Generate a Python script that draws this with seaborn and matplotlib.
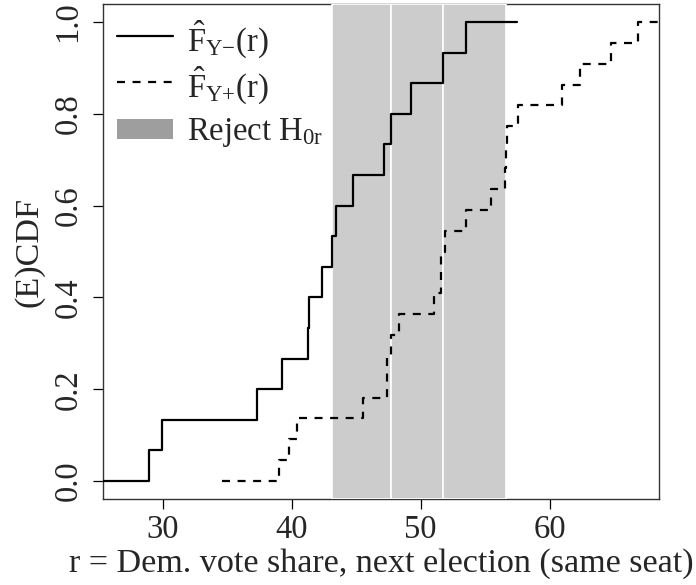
import numpy as np
import pandas as pd
import matplotlib
matplotlib.use("Agg")
import matplotlib.pyplot as plt
from matplotlib.patches import Patch, Rectangle
from matplotlib.lines import Line2D
from matplotlib.legend_handler import HandlerPatch
import seaborn as sns

# ECDF knots (jump points)
knots_minus = [28.94, 29.95, 37.26, 39.25, 41.24, 41.34, 42.38, 43.13, 43.46,
               44.75, 47.13, 47.73, 49.28, 51.73, 53.51]
knots_plus = [39.02, 39.79, 40.41, 45.53, 47.39, 47.39, 47.67, 48.29, 51.01,
              51.55, 51.57, 51.91, 53.54, 55.43, 56.51, 56.59, 56.67, 57.54,
              60.97, 62.33, 64.73, 66.90]
# horizontal extent of each step function
extent_minus = [24.98, 57.47]
extent_plus = [34.55, 71.40]

# rejection regions (shaded)
reject_lo = [43.13, 47.72, 51.75]
reject_hi = [47.72, 51.75, 56.64]

x_ticks = [30, 40, 50, 60]
y_ticks = [0.0, 0.2, 0.4, 0.6, 0.8, 1.0]
y_ticklabels = ["0.0", "0.2", "0.4", "0.6", "0.8", "1.0"]


def ecdf_frame(knots, extent):
    n = len(knots)
    xs = [extent[0]] + list(knots) + [extent[1]]
    ys = [0.0] + [(i + 1) / n for i in range(n)] + [1.0]
    return pd.DataFrame({"r": xs, "F": ys})


def small_rect(legend, orig_handle, xdescent, ydescent, width, height, fontsize):
    # legend rows are tall, keep the grey box short
    h = 14.4
    return Rectangle((-xdescent, -ydescent + (height - h) / 2), width, h)


df_minus = ecdf_frame(knots_minus, extent_minus)
df_plus = ecdf_frame(knots_plus, extent_plus)

sns.set_style("ticks")
plt.rcParams["font.family"] = ["Liberation Serif", "DejaVu Serif"]
plt.rcParams["mathtext.fontset"] = "custom"
plt.rcParams["mathtext.rm"] = "Liberation Serif"
plt.rcParams["mathtext.it"] = "Liberation Serif:italic"
plt.rcParams["font.size"] = 23.5

fig = plt.figure(figsize=(6.96, 5.85), dpi=100)
ax = fig.add_axes([0.148, 0.147, 0.799, 0.846])

for lo, hi in zip(reject_lo, reject_hi):
    ax.axvspan(lo, hi, facecolor="#cccccc", edgecolor="white", linewidth=1.2, zorder=3)

sns.lineplot(data=df_minus, x="r", y="F", estimator=None, drawstyle="steps-post",
             color="black", linewidth=1.6, ax=ax, zorder=4)
sns.lineplot(data=df_plus, x="r", y="F", estimator=None, drawstyle="steps-post",
             color="black", linewidth=1.6, dashes=False, ax=ax, zorder=4)
ax.lines[-1].set_dashes([3.6, 3.4])

ax.set_xlim(25.35, 68.5)
ax.set_ylim(-0.039, 1.039)
ax.set_xticks(x_ticks)
ax.set_yticks(y_ticks)
ax.set_yticklabels(y_ticklabels, rotation=90, va="center")
ax.tick_params(direction="out", length=7.2, width=0.9, color="black", pad=4)
ax.tick_params(axis="y", pad=7)
for s in ax.spines.values():
    s.set_visible(True)
    s.set_linewidth(1.0)
    s.set_color("#333333")
    s.set_zorder(2)

ax.set_xlabel("r = Dem. vote share, next election (same seat)", fontsize=24.6, labelpad=2)
ax.set_ylabel("(E)CDF", fontsize=24.6, labelpad=6)

handles = [
    Line2D([], [], color="black", linewidth=1.6),
    Line2D([], [], color="black", linewidth=1.6, dashes=[3.6, 3.4]),
    Patch(facecolor="#9e9e9e", edgecolor="none"),
]
labels = [r"$\hat{\mathrm{F}}_{\mathrm{Y}{-}}(\mathrm{r})$",
          r"$\hat{\mathrm{F}}_{\mathrm{Y}{+}}(\mathrm{r})$",
          r"Reject H$_{\mathrm{0r}}$"]
ax.legend(handles, labels, loc="upper left", frameon=False, handlelength=1.71,
          handleheight=1.35, handletextpad=0.43, labelspacing=0.14,
          borderaxespad=0.215, borderpad=0.215,
          handler_map={Patch: HandlerPatch(patch_func=small_rect)})

fig.savefig("out.png", dpi=100)
